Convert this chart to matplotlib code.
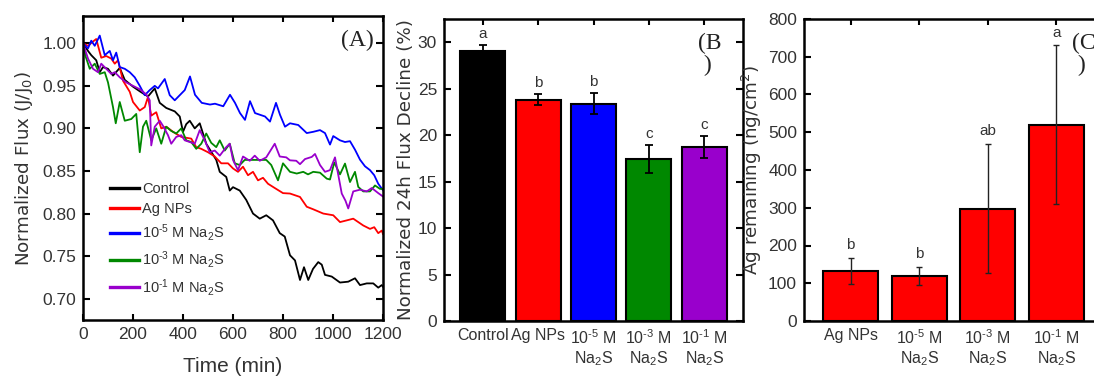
import matplotlib
matplotlib.use("Agg")
import matplotlib.pyplot as plt
import numpy as np

plt.rcParams['font.family'] = ['Liberation Sans', 'DejaVu Sans']
plt.rcParams['mathtext.fontset'] = 'custom'
plt.rcParams['mathtext.rm'] = 'Liberation Sans'
plt.rcParams['mathtext.it'] = 'Liberation Sans'
plt.rcParams['mathtext.default'] = 'regular'

TXT = '#333333'
LABEL_FONT = ['DejaVu Sans']

# ---- (A) normalized flux vs time ----
t_control = [0, 20, 33, 53, 67, 80, 100, 120, 147, 167, 200, 230, 260, 287, 307, 333, 367, 387, 400, 413,
             427, 447, 467, 493, 533, 547, 573, 587, 600, 627, 653, 680, 707, 733, 760, 787, 807, 828, 848,
             868, 884, 901, 920, 941, 955, 968, 995, 1028, 1061, 1088, 1108, 1135, 1161, 1181, 1195, 1200]
f_control = [1.000, 0.991, 0.986, 0.980, 0.966, 0.972, 0.970, 0.962, 0.971, 0.957, 0.949, 0.943, 0.9375,
             0.947, 0.930, 0.924, 0.920, 0.914, 0.896, 0.905, 0.909, 0.900, 0.906, 0.882, 0.863, 0.849,
             0.843, 0.827, 0.831, 0.827, 0.816, 0.800, 0.794, 0.798, 0.792, 0.777, 0.773, 0.751, 0.745,
             0.722, 0.737, 0.722, 0.735, 0.743, 0.740, 0.728, 0.726, 0.719, 0.720, 0.724, 0.716, 0.718,
             0.718, 0.713, 0.716, 0.714]

t_agnp = [0, 20, 40, 53, 73, 93, 113, 127, 140, 160, 187, 200, 227, 247, 260, 273, 293, 313, 333, 360, 393,
          433, 453, 473, 500, 527, 553, 580, 600, 620, 640, 660, 680, 700, 720, 740, 767, 800, 828, 868, 895,
          921, 961, 1001, 1028, 1055, 1081, 1101, 1121, 1148, 1165, 1181, 1195, 1200]
f_agnp = [1.000, 0.997, 1.002, 1.005, 0.983, 0.985, 0.982, 0.976, 0.980, 0.956, 0.943, 0.931, 0.921, 0.925,
          0.937, 0.915, 0.919, 0.900, 0.902, 0.896, 0.890, 0.888, 0.878, 0.876, 0.872, 0.867, 0.859, 0.859,
          0.853, 0.849, 0.855, 0.845, 0.849, 0.839, 0.842, 0.835, 0.830, 0.824, 0.8235, 0.8195, 0.808,
          0.805, 0.800, 0.798, 0.790, 0.792, 0.794, 0.790, 0.786, 0.782, 0.784, 0.777, 0.780, 0.776]

t_na2s_5 = [0, 20, 33, 47, 67, 87, 107, 120, 133, 147, 167, 187, 207, 227, 247, 267, 287, 300, 327, 347, 367,
            387, 407, 428, 448, 475, 508, 528, 561, 588, 608, 628, 648, 668, 688, 708, 728, 748, 772, 788,
            808, 828, 861, 895, 921, 948, 968, 988, 1001, 1028, 1048, 1068, 1088, 1108, 1128, 1148, 1165,
            1181, 1200]
f_na2s_5 = [1.000, 0.994, 1.003, 0.997, 1.009, 0.986, 0.991, 0.980, 0.989, 0.972, 0.970, 0.966, 0.960,
            0.950, 0.939, 0.945, 0.950, 0.947, 0.958, 0.939, 0.933, 0.939, 0.945, 0.961, 0.9395, 0.930,
            0.928, 0.929, 0.926, 0.9395, 0.930, 0.918, 0.910, 0.932, 0.918, 0.916, 0.914, 0.908, 0.930,
            0.916, 0.902, 0.906, 0.904, 0.8945, 0.896, 0.898, 0.8945, 0.881, 0.891, 0.886, 0.884, 0.885,
            0.875, 0.8633, 0.8555, 0.851, 0.845, 0.835, 0.8274]

t_na2s_3 = [0, 11, 27, 47, 67, 87, 100, 120, 131, 147, 167, 193, 213, 227, 240, 253, 273, 293, 313, 333, 353,
            373, 393, 413, 433, 453, 473, 493, 513, 533, 547, 567, 587, 607, 627, 647, 680, 733, 753, 780,
            800, 828, 855, 881, 900, 921, 948, 975, 988, 1005, 1028, 1048, 1068, 1088, 1101, 1121, 1148,
            1168, 1188, 1200]
f_na2s_3 = [1.000, 0.984, 0.970, 0.976, 0.964, 0.966, 0.954, 0.925, 0.906, 0.931, 0.909, 0.911, 0.917,
            0.872, 0.902, 0.909, 0.886, 0.900, 0.882, 0.902, 0.897, 0.894, 0.900, 0.886, 0.884, 0.876,
            0.882, 0.894, 0.883, 0.878, 0.886, 0.874, 0.882, 0.859, 0.857, 0.863, 0.863, 0.863, 0.857,
            0.839, 0.859, 0.849, 0.847, 0.849, 0.846, 0.849, 0.848, 0.841, 0.840, 0.860, 0.846, 0.8587,
            0.837, 0.849, 0.8313, 0.826, 0.826, 0.833, 0.829, 0.829]

t_na2s_1 = [0, 20, 40, 60, 73, 93, 113, 127, 147, 173, 200, 227, 253, 267, 273, 287, 307, 320, 340, 353, 373,
            393, 407, 427, 447, 467, 487, 507, 527, 547, 573, 587, 600, 620, 640, 667, 687, 707, 733, 767,
            787, 813, 828, 853, 868, 888, 915, 928, 948, 968, 988, 1008, 1035, 1050, 1061, 1081, 1108, 1135,
            1155, 1181, 1200]
f_na2s_1 = [1.000, 0.982, 0.970, 0.966, 0.976, 0.970, 0.964, 0.966, 0.960, 0.954, 0.950, 0.946, 0.940,
            0.933, 0.880, 0.902, 0.909, 0.903, 0.892, 0.882, 0.890, 0.892, 0.886, 0.884, 0.882, 0.898,
            0.886, 0.872, 0.874, 0.868, 0.878, 0.882, 0.863, 0.851, 0.867, 0.862, 0.868, 0.862, 0.866,
            0.882, 0.867, 0.866, 0.8625, 0.862, 0.858, 0.864, 0.8665, 0.870, 0.857, 0.849, 0.851, 0.866,
            0.8235, 0.815, 0.806, 0.826, 0.828, 0.826, 0.830, 0.824, 0.820]

series_labels = ['Control', 'Ag NPs', '10$^{\u20105}$ M Na$_2$S', '10$^{\u20103}$ M Na$_2$S',
                 '10$^{\u20101}$ M Na$_2$S']
series_colors = ['#000000', '#ff0000', '#0000ff', '#008800', '#9900cc']

# ---- (B) normalized 24 h flux decline ----
b_categories = ['Control', 'Ag NPs', '10$^{\u20105}$ M\nNa$_2$S', '10$^{\u20103}$ M\nNa$_2$S',
                '10$^{\u20101}$ M\nNa$_2$S']
b_decline = [29.1, 23.8, 23.4, 17.4, 18.7]
b_err = [0.6, 0.6, 1.1, 1.5, 1.2]
b_letters = ['a', 'b', 'b', 'c', 'c']

# ---- (C) Ag remaining on membrane ----
c_categories = ['Ag NPs', '10$^{\u20105}$ M\nNa$_2$S', '10$^{\u20103}$ M\nNa$_2$S',
                '10$^{\u20101}$ M\nNa$_2$S']
c_ag = [133, 120, 298, 520]
c_err = [34, 24, 172, 210]
c_letters = ['b', 'b', 'ab', 'a']

W, H = 1094, 383
fig = plt.figure(figsize=(W / 100, H / 100), dpi=100)


def frac(l, t, r, b):
    return [l / W, 1 - b / H, (r - l) / W, (b - t) / H]


def style(ax, xsize=12.5):
    for s in ax.spines.values():
        s.set_linewidth(1.8)
    ax.tick_params(direction='in', length=5, width=1.5, top=True, right=True,
                   labelsize=12.5, labelcolor=TXT, pad=5)
    ax.tick_params(axis='x', which='major', top=True, length=4, labelsize=xsize)


# Panel A
axA = fig.add_axes(frac(83, 16, 383, 320))
series = [(t_control, f_control), (t_agnp, f_agnp), (t_na2s_5, f_na2s_5),
          (t_na2s_3, f_na2s_3), (t_na2s_1, f_na2s_1)]
for (tt, ff), lab, col in zip(series, series_labels, series_colors):
    axA.plot(tt, ff, color=col, lw=1.3, label=lab)
axA.set_xlim(0, 1200)
axA.set_ylim(0.675, 1.032)
axA.set_xticks(np.arange(0, 1201, 200))
axA.set_yticks(np.arange(0.70, 1.001, 0.05))
axA.yaxis.set_major_formatter(matplotlib.ticker.FormatStrFormatter('%.2f'))
style(axA)
axA.set_xlabel('Time (min)', fontsize=15, color=TXT, labelpad=11)
axA.set_ylabel('Normalized Flux (J/J$_0$)', fontsize=13.2, color=TXT, labelpad=5,
               family=LABEL_FONT)
axA.text(0.97, 0.955, '(A)', transform=axA.transAxes, ha='right', va='top',
         fontsize=17, family='Liberation Serif', color='#222222')
leg = axA.legend(loc='lower left', bbox_to_anchor=(0.06, 0.045), frameon=False, fontsize=10.5,
                 handlelength=2.0, handletextpad=0.2, labelspacing=0.42, borderaxespad=0.2)
for txt in leg.get_texts():
    txt.set_color(TXT)
for h in leg.get_lines():
    h.set_linewidth(2.4)

# Panel B
axB = fig.add_axes(frac(444, 19, 743, 321))
xb = np.arange(1, len(b_decline) + 1)
axB.bar(xb, b_decline, width=0.81, color=series_colors, edgecolor='black', linewidth=1.5, zorder=2)
axB.errorbar(xb, b_decline, yerr=b_err, fmt='none', ecolor='black', elinewidth=1.3,
             capsize=3, capthick=1.3, zorder=3)
for x, v, e, s in zip(xb, b_decline, b_err, b_letters):
    axB.annotate(s, (x, v + e), xytext=(0, 3), textcoords='offset points',
                 ha='center', va='bottom', fontsize=11, color=TXT)
axB.set_xlim(0.3, 5.7)
axB.set_ylim(0, 32.5)
axB.set_yticks(np.arange(0, 31, 5))
axB.set_xticks(xb)
axB.set_xticklabels(b_categories, linespacing=1.2)
style(axB, xsize=11.5)
axB.set_ylabel('Normalized 24h Flux Decline (%)', fontsize=13.2, color=TXT, labelpad=2,
               family=LABEL_FONT)
axB.text(0.85, 0.955, '(B\n )', transform=axB.transAxes, ha='left', va='top',
         fontsize=17, family='Liberation Serif', color='#222222', linespacing=1.1)

# Panel C
axC = fig.add_axes(frac(804, 19, 1103, 321))
xc = np.arange(1, len(c_ag) + 1)
axC.bar(xc, c_ag, width=0.80, color='#ff0000', edgecolor='black', linewidth=1.5, zorder=2)
axC.errorbar(xc, c_ag, yerr=c_err, fmt='none', ecolor='#222222', elinewidth=1.0,
             capsize=2.5, capthick=1.0, zorder=3)
for x, v, e, s in zip(xc, c_ag, c_err, c_letters):
    axC.annotate(s, (x, v + e), xytext=(0, 4), textcoords='offset points',
                 ha='center', va='bottom', fontsize=11, color=TXT)
axC.set_xlim(0.32, 4.68)
axC.set_ylim(0, 800)
axC.set_yticks(np.arange(0, 801, 100))
axC.set_xticks(xc)
axC.set_xticklabels(c_categories, linespacing=1.2)
style(axC, xsize=11.5)
axC.set_ylabel('Ag remaining (ng/cm$^2$)', fontsize=13.2, color=TXT, labelpad=3,
               family=LABEL_FONT)
axC.text(0.895, 0.955, '(C\n )', transform=axC.transAxes, ha='left', va='top',
         fontsize=17, family='Liberation Serif', color='#222222', linespacing=1.1)

fig.savefig('out.png', dpi=100)
